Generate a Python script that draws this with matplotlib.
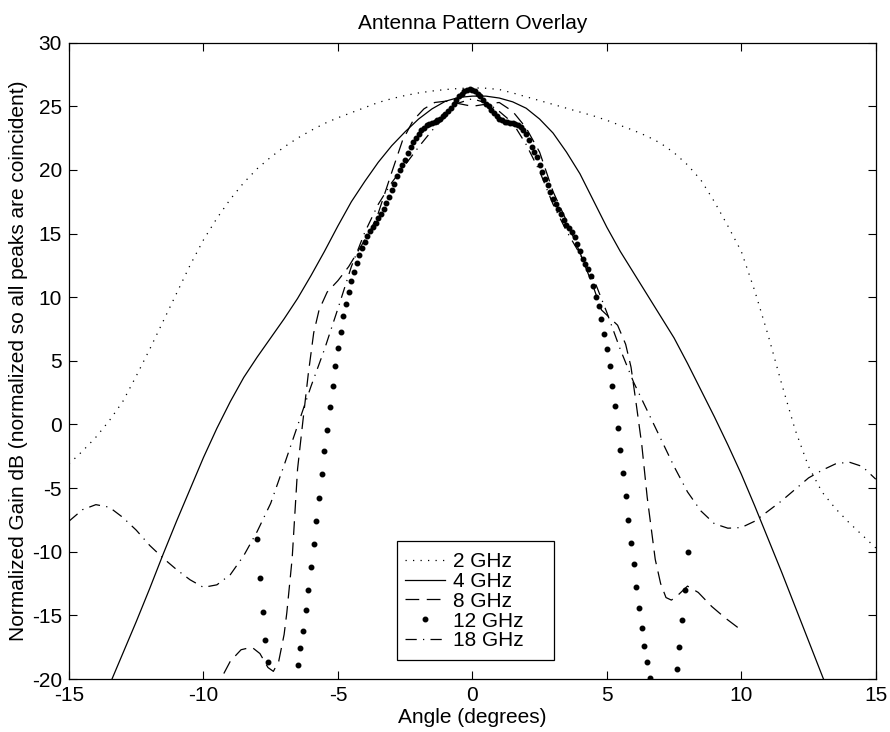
import numpy as np
import matplotlib
matplotlib.use('Agg')
import matplotlib.pyplot as plt
from matplotlib.patches import Rectangle

plt.rcParams['font.family'] = ['Liberation Sans', 'DejaVu Sans']
plt.rcParams['axes.unicode_minus'] = False

# 2 GHz
x2 = [-15, -14.5, -14, -13.5, -13, -12.5, -12, -11.5, -11, -10.5, -10, -9.5, -9, -8.5, -8,
      -7.5, -7, -6.5, -6, -5.5, -5, -4.5, -4, -3.5, -3, -2.5, -2, -1.5, -1, -0.5, 0,
      0.5, 1, 1.5, 2, 2.5, 3, 3.5, 4, 4.5, 5, 5.5, 6, 6.5, 7, 7.5, 8, 8.5,
      9, 9.5, 10, 10.5, 11, 11.5, 12, 12.5, 13, 13.5, 14, 14.5, 15]
g2 = [-3.1, -2.1, -1.0, 0.3, 1.8, 3.8, 5.9, 8.1, 10.3, 12.5, 14.5, 16.2, 17.7, 19.0, 20.1,
      21.0, 21.8, 22.5, 23.1, 23.65, 24.1, 24.5, 24.9, 25.3, 25.6, 25.85, 26.05, 26.2, 26.32, 26.4, 26.45,
      26.42, 26.32, 26.05, 25.75, 25.45, 25.15, 24.85, 24.55, 24.25, 23.9, 23.5, 23.1, 22.65, 22.1, 21.35, 20.4, 19.2,
      17.5, 15.6, 13.6, 10.5, 7.0, 3.2, -0.4, -3.3, -5.3, -6.6, -7.7, -8.7, -9.7]

# 4 GHz
x4 = [-13.5, -13, -12.5, -12, -11.5, -11, -10.5, -10, -9.5, -9, -8.5, -8, -7.5, -7, -6.5,
      -6, -5.5, -5, -4.5, -4, -3.5, -3, -2.5, -2, -1.5, -1, -0.5, 0, 0.5, 1, 1.5, 2, 2.5,
      3, 3.5, 4, 4.5, 5, 5.5, 6, 6.5, 7, 7.5, 8, 8.5, 9, 9.5, 10, 10.5, 11, 11.5, 12,
      12.5, 13, 13.5]
g4 = [-20.5, -18.0, -15.5, -12.9, -10.2, -7.6, -5.1, -2.6, -0.3, 1.8, 3.7, 5.3, 6.8, 8.3, 9.9,
      11.7, 13.6, 15.6, 17.5, 19.1, 20.6, 21.9, 23.0, 24.0, 24.8, 25.4, 25.7, 25.8, 25.8, 25.65, 25.35, 24.85, 24.0,
      22.9, 21.4, 19.7, 17.6, 15.5, 13.6, 11.9, 10.2, 8.5, 6.8, 4.8, 2.7, 0.6, -1.6, -3.9, -6.4, -9.0, -11.6, -14.3,
      -17.0, -19.7, -22.4]

# 8 GHz
x8 = [-10, -9.6, -9.3, -9.0, -8.6, -8.2, -7.9, -7.6, -7.4, -7.2, -7.0, -6.9, -6.7, -6.5, -6.3,
      -6.1, -5.9, -5.7, -5.4, -5.0, -4.6, -4.2, -3.8, -3.5, -3.0, -2.6, -2.2, -1.8, -1.4, -1.0,
      -0.6, 0, 0.6, 1.0, 1.5, 2.0, 2.5, 3.0, 3.5, 4.0, 4.5, 4.8, 5.1, 5.4, 5.7, 5.9, 6.1, 6.3,
      6.5, 6.8, 7.0, 7.2, 7.4, 7.6, 8.0, 8.4, 8.9, 9.4, 9.9]
g8 = [-22.5, -21.0, -19.8, -18.6, -17.7, -17.5, -18.0, -19.1, -19.4, -18.6, -16.5, -14.8, -10.5, -3.5, 0.3,
      4.0, 7.2, 9.0, 10.4, 11.3, 12.4, 13.8, 15.2, 16.6, 19.8, 22.3, 23.9, 24.8, 25.3, 25.4,
      25.25, 25.0, 25.2, 25.3, 24.6, 23.3, 21.4, 18.3, 16.0, 13.5, 10.8, 9.0, 8.4, 7.8, 6.3, 4.5, 1.5, -1.6,
      -5.7, -10.6, -12.5, -13.6, -13.8, -13.5, -12.7, -13.2, -14.3, -15.2, -16.0]

# 12 GHz (sampled every 0.1 deg)
x12 = np.round(np.arange(-8.0, 8.01, 0.1), 1)
g12 = [-9.0, -12.1, -14.7, -16.9, -18.7, -21.0, -24.0, -28.0, -32.0, -30.0,
       -27.0, -24.5, -22.5, -21.3, -20.2, -18.9, -17.6, -16.2, -14.6, -13.0,
       -11.2, -9.4, -7.6, -5.8, -3.9, -2.1, -0.4, 1.4, 3.0, 4.6,
       6.0, 7.3, 8.5, 9.5, 10.4, 11.3, 12.0, 12.7, 13.3, 13.9,
       14.3, 14.8, 15.2, 15.5, 15.8, 16.2, 16.5, 16.9, 17.4, 17.9,
       18.4, 18.9, 19.5, 20.0, 20.4, 20.8, 21.3, 21.8, 22.2, 22.5,
       22.8, 23.1, 23.3, 23.5, 23.6, 23.7, 23.8, 23.9, 24.0, 24.2,
       24.4, 24.6, 24.9, 25.2, 25.5, 25.8, 26.0, 26.2, 26.3, 26.35,
       26.3,
       26.2, 26.0, 25.8, 25.5, 25.2, 25.0, 24.7, 24.5, 24.2, 24.0,
       23.9, 23.8, 23.75, 23.7, 23.7, 23.6, 23.5, 23.35, 23.1, 22.8,
       22.35, 21.8, 21.4, 21.0, 20.4, 19.8, 19.3, 18.8, 18.3, 17.7,
       17.3, 16.9, 16.5, 16.1, 15.7, 15.4, 15.1, 14.7, 14.2, 13.6,
       13.0, 12.6, 12.2, 11.7, 10.9, 10.0, 9.3, 8.3, 7.1, 5.9,
       4.6, 3.06, 1.45, -0.27, -2.0, -3.8, -5.6, -7.5, -9.3, -11.0,
       -12.8, -14.4, -16.0, -17.4, -18.7, -19.9, -21.2, -22.6, -24.5, -27.0,
       -30.0, -32.0, -28.0, -24.0, -21.0, -19.2, -17.5, -15.4, -13.0, -10.0]

# 18 GHz
x18 = [-15, -14.5, -14, -13.5, -13, -12.5, -12, -11.5, -11, -10.5, -10, -9.5, -9, -8.5, -8,
       -7.5, -7, -6.5, -6, -5.5, -5, -4.5, -4, -3.5, -3, -2.5, -2, -1.5, -1, -0.6, 0, 0.6,
       1, 1.5, 2, 2.5, 3, 3.5, 4, 4.5, 5, 5.5, 6, 6.5, 7, 7.5, 8, 8.5, 9, 9.5, 10, 10.5,
       11, 11.5, 12, 12.5, 13, 13.5, 14, 14.5, 15]
g18 = [-7.6, -6.7, -6.3, -6.5, -7.3, -8.3, -9.5, -10.5, -11.4, -12.2, -12.8, -12.6, -11.8, -10.3, -8.4,
       -6.2, -3.2, -0.1, 3.0, 5.9, 9.1, 12.4, 15.1, 17.3, 19.0, 20.4, 21.8, 23.1, 24.2, 25.2, 25.6, 25.2,
       24.6, 23.7, 22.0, 19.9, 17.3, 15.2, 13.4, 11.5, 8.8, 5.9, 3.3, 1.1, -1.1, -3.3, -5.3, -6.8, -7.8, -8.15, -8.1, -7.6,
       -6.8, -6.0, -5.1, -4.2, -3.6, -3.1, -2.95, -3.3, -4.3]

fig = plt.figure(figsize=(8.9, 7.32), dpi=100)
ax = fig.add_axes([0.0775, 0.0724, 0.9065, 0.8693])

ax.plot(x2, g2, color='k', linestyle=(0, (1, 5)), linewidth=0.9, label='2 GHz')
ax.plot(x4, g4, color='k', linestyle='-', linewidth=0.9, label='4 GHz')
ax.plot(x8, g8, color='k', linestyle=(0, (11, 6)), linewidth=0.9, label='8 GHz')
ax.plot(x12, g12, color='k', linestyle='none', marker='.', markersize=6.5, label='12 GHz')
ax.plot(x18, g18, color='k', linestyle=(0, (9, 5, 1, 5)), linewidth=0.9, label='18 GHz')

ax.set_xlim(-15, 15)
ax.set_ylim(-20, 30)
ax.set_xticks(np.arange(-15, 16, 5))
ax.set_yticks(np.arange(-20, 31, 5))
ax.tick_params(direction='in', length=6, width=0.8, top=True, right=True, labelsize=15)
ax.tick_params(axis='y', pad=5)
ax.tick_params(axis='x', pad=5)
for s in ax.spines.values():
    s.set_linewidth(0.9)

ax.set_title('Antenna Pattern Overlay', fontsize=15, pad=10)
ax.set_xlabel('Angle (degrees)', fontsize=15, labelpad=2)
ax.set_ylabel('Normalized Gain dB (normalized so all peaks are coincident)', fontsize=15, labelpad=3)

# legend box (MATLAB style, wider on the right)
box = Rectangle((0.4064, 0.0299), 0.1945, 0.187, transform=ax.transAxes,
                facecolor='white', edgecolor='k', linewidth=0.9, zorder=4.5)
ax.add_patch(box)
leg = ax.legend(loc='center left', bbox_to_anchor=(0.4164, 0.1223), fontsize=15, frameon=False,
                handlelength=1.9, handletextpad=0.4, labelspacing=0.04,
                borderpad=0, borderaxespad=0)
leg.set_zorder(5)

fig.savefig('out.png', dpi=100)
